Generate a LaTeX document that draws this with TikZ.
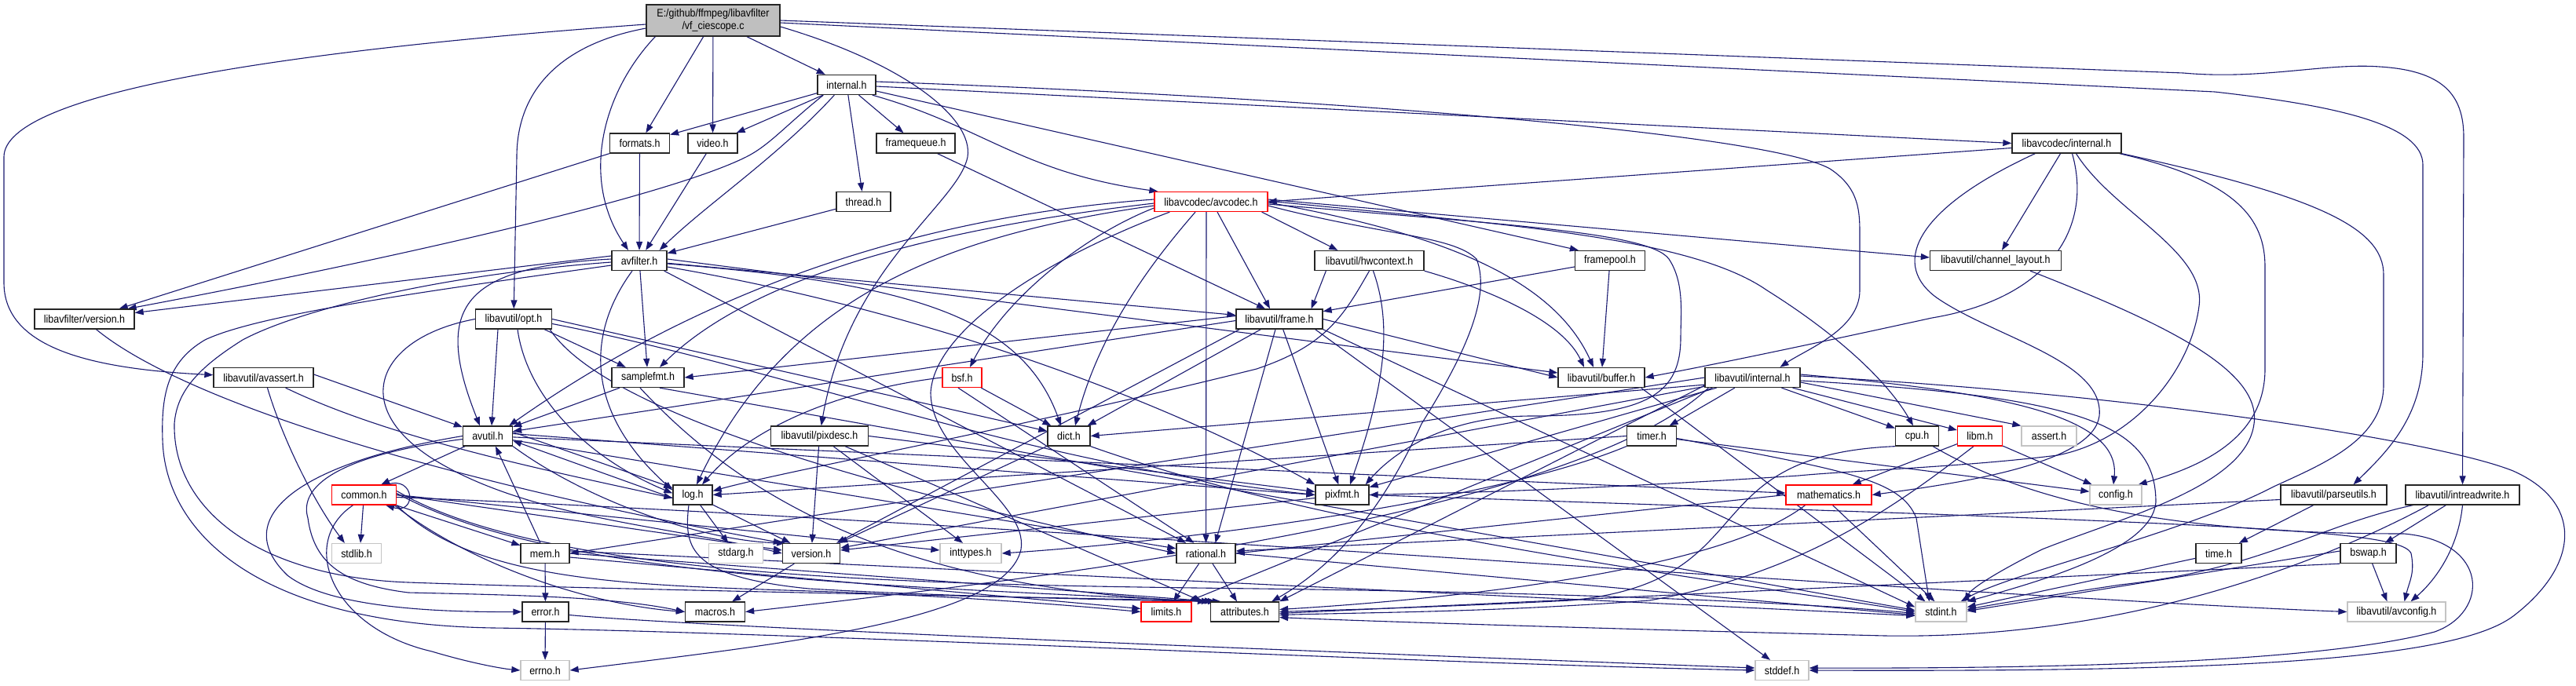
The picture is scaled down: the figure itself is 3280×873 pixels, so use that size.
\documentclass[tikz,border=0pt]{standalone}
\usepackage{fontspec}
\setmainfont{Liberation Sans}[FakeStretch=0.89]
\usetikzlibrary{arrows.meta,calc}
\definecolor{edgec}{HTML}{191970}
\definecolor{mainfill}{HTML}{BFBFBF}
\definecolor{grayb}{HTML}{C4C4C4}
\pgfdeclarelayer{bg}
\pgfsetlayers{bg,main}
\tikzset{
  nd/.style={draw=black!85, line width=1.3pt, fill=white, minimum height=25pt, inner sep=0pt, font=\fontsize{14}{16}\selectfont},
  gnd/.style={nd, draw=grayb},
  rnd/.style={nd, draw=red},
  e/.style={draw=edgec, line width=1.1pt, -{Triangle[length=11pt,width=8pt]}},
}
\begin{document}
\begin{tikzpicture}[x=1pt,y=-1pt]
\useasboundingbox (0,0) rectangle (3280,873);
% ---------------- nodes
\node[nd, fill=mainfill, minimum width=170pt, minimum height=40pt, align=center] (main) at (908,26) {E:/github/ffmpeg/libavfilter\\/vf\_ciescope.c};
\node[nd, minimum width=74pt] (internal) at (1078,108) {internal.h};
\node[nd, minimum width=76pt] (formats) at (814.5,182.5) {formats.h};
\node[nd, minimum width=63pt] (video) at (907.5,182.5) {video.h};
\node[nd, minimum width=100pt] (framequeue) at (1166,182.5) {framequeue.h};
\node[nd, minimum width=139pt] (lavcinternal) at (2631.5,182.5) {libavcodec/internal.h};
\node[nd, minimum width=69pt] (thread) at (1099.5,257) {thread.h};
\node[rnd, minimum width=144pt] (avcodec) at (1542,257) {libavcodec/avcodec.h};
\node[nd, minimum width=70pt] (avfilter) at (814,332) {avfilter.h};
\node[nd, minimum width=139pt] (hwcontext) at (1743.5,332) {libavutil/hwcontext.h};
\node[nd, minimum width=89pt] (framepool) at (2050,332) {framepool.h};
\node[nd, minimum width=167pt] (chlayout) at (2541,332) {libavutil/channel\_layout.h};
\node[nd, minimum width=127pt] (lavfiversion) at (107.5,406.5) {libavfilter/version.h};
\node[nd, minimum width=97pt] (opt) at (654,406.5) {libavutil/opt.h};
\node[nd, minimum width=110pt] (frame) at (1629,406.5) {libavutil/frame.h};
\node[nd, minimum width=127pt] (avassert) at (335.5,481) {libavutil/avassert.h};
\node[nd, minimum width=92pt] (samplefmt) at (825,481) {samplefmt.h};
\node[rnd, minimum width=50pt] (bsf) at (1225,481) {bsf.h};
\node[nd, minimum width=110pt] (buffer) at (2039,481) {libavutil/buffer.h};
\node[nd, minimum width=121pt] (lavuinternal) at (2231.5,481) {libavutil/internal.h};
\node[nd, minimum width=63pt] (avutil) at (621,555.5) {avutil.h};
\node[nd, minimum width=124pt] (pixdesc) at (1043.5,555.5) {libavutil/pixdesc.h};
\node[nd, minimum width=54pt] (dict) at (1361,555.5) {dict.h};
\node[nd, minimum width=63pt] (timer) at (2103,555.5) {timer.h};
\node[nd, minimum width=55pt] (cpu) at (2441,555.5) {cpu.h};
\node[rnd, minimum width=57pt] (libm) at (2521,555.5) {libm.h};
\node[gnd, minimum width=70pt] (assert) at (2609,555.5) {assert.h};
\node[rnd, minimum width=82pt] (common) at (463.5,630.5) {common.h};
\node[nd, minimum width=50pt] (log) at (882,630.5) {log.h};
\node[nd, minimum width=68pt] (pixfmt) at (1709,630.5) {pixfmt.h};
\node[rnd, minimum width=109pt] (mathematics) at (2328.5,630.5) {mathematics.h};
\node[gnd, minimum width=66pt] (config) at (2694,630.5) {config.h};
\node[nd, minimum width=135pt] (parseutils) at (2971.5,630.5) {libavutil/parseutils.h};
\node[nd, minimum width=145pt] (intreadwrite) at (3135.5,630.5) {libavutil/intreadwrite.h};
\node[gnd, minimum width=63pt] (stdlib) at (454,705) {stdlib.h};
\node[nd, minimum width=62pt] (mem) at (694,705) {mem.h};
\node[gnd, minimum width=69pt] (stdarg) at (937,705) {stdarg.h};
\node[nd, minimum width=73pt] (version) at (1033,705) {version.h};
\node[gnd, minimum width=78pt] (inttypes) at (1236,705) {inttypes.h};
\node[nd, minimum width=75pt] (rational) at (1535.5,705) {rational.h};
\node[nd, minimum width=58pt] (time) at (2825,705) {time.h};
\node[nd, minimum width=71pt] (bswap) at (3015.5,705) {bswap.h};
\node[nd, minimum width=59pt] (error) at (694.5,779.5) {error.h};
\node[nd, minimum width=76pt] (macros) at (910.5,779.5) {macros.h};
\node[rnd, minimum width=64pt] (limits) at (1485,779.5) {limits.h};
\node[nd, minimum width=87pt] (attributes) at (1585,779.5) {attributes.h};
\node[gnd, minimum width=65pt] (stdint) at (2471.5,779.5) {stdint.h};
\node[gnd, minimum width=125pt] (avconfig) at (3051.5,779.5) {libavutil/avconfig.h};
\node[gnd, minimum width=62pt] (errno) at (694,854) {errno.h};
\node[gnd, minimum width=68pt] (stddef) at (2269,854) {stddef.h};
% ---------------- edges
\begin{pgfonlayer}{bg}
\fill[white] (0,0) rectangle (3280,873);
% main
\draw[e] ($(main.west)+(0,5)$) .. controls (350,65) and (5,120) .. (5,200) -- (5,360) .. controls (5,445) and (120,470) .. (avassert);
\draw[e] ($(main.west)+(0,10)$) .. controls (720,55) and (658,110) .. (658,200) -- (opt);
\draw[e] ($(main.south west)+(12,0)$) .. controls (765,120) and (740,230) .. ($(avfilter.north)+(-14,0)$);
\draw[e] (main) -- (formats);
\draw[e] (main) -- (video);
\draw[e] (main) -- (internal);
\draw[e] ($(main.east)+(0,8)$) .. controls (1150,80) and (1240,150) .. (1232,200) .. controls (1220,260) and (1080,340) .. (pixdesc);
\draw[e] ($(main.east)+(0,3)$) -- (2820,117) .. controls (2980,135) and (3085,160) .. (3085,210) -- (3085,450) .. controls (3085,530) and (3040,575) .. ($(parseutils.north)+(25,0)$);
\draw[e] (main.east) -- (2780,93) .. controls (2880,102) and (2960,80) .. (3030,85) .. controls (3110,90) and (3137,120) .. (3137,175) -- (intreadwrite);
% internal.h
\draw[e] (internal) -- (formats);
\draw[e] (internal) -- (video);
\draw[e] ($(internal.south west)+(22,0)$) .. controls (990,200) and (900,260) .. ($(avfilter.north east)+(-10,0)$);
\draw[e] ($(internal.south west)+(8,0)$) .. controls (1000,160) and (980,185) .. (950,200) .. controls (850,250) and (500,330) .. ($(lavfiversion.north east)+(-9,0)$);
\draw[e] (internal) -- (thread);
\draw[e] (internal) -- (framequeue);
\draw[e] ($(internal.south east)+(-5,0)$) .. controls (1250,160) and (1300,220) .. ($(avcodec.north west)+(5,0)$);
\draw[e] ($(internal.east)+(0,8)$) -- ($(framepool.north west)+(5,0)$);
\draw[e] ($(internal.east)+(0,2)$) -- (lavcinternal.west);
\draw[e] ($(internal.east)+(0,-4)$) .. controls (1700,125) and (2250,170) .. (2330,215) .. controls (2368,240) and (2368,270) .. (2368,300) -- (2368,370) .. controls (2368,420) and (2300,445) .. ($(lavuinternal.north)+(35,0)$);
% formats, video, thread, framequeue
\draw[e] (formats) -- (avfilter);
\draw[e] (formats.south west) -- ($(lavfiversion.north east)+(-20,0)$);
\draw[e] (video) -- (avfilter);
\draw[e] (thread) -- (avfilter);
\draw[e] (framequeue) -- ($(frame.north)+(-18,0)$);
% libavcodec/internal.h
\draw[e] ($(lavcinternal.west)+(0,6)$) -- (avcodec.east);
\draw[e] (lavcinternal) -- (chlayout);
\draw[e] ($(lavcinternal.south)+(7,0)$) .. controls (2665,290) and (2610,380) .. (2460,405) .. controls (2300,440) and (2180,465) .. (buffer.east);
\draw[e] ($(lavcinternal.south west)+(30,0)$) .. controls (2430,270) and (2410,340) .. (2467,380) .. controls (2540,430) and (2680,460) .. (2673,530) .. controls (2665,590) and (2500,615) .. (mathematics.east);
\draw[e] ($(lavcinternal.south)+(12,0)$) .. controls (2690,270) and (2810,320) .. (2800,390) .. controls (2790,470) and (2720,560) .. (2620,580) .. controls (2500,595) and (2350,600) .. (2290,606) .. controls (2000,625) and (1850,628) .. (pixfmt.east);
\draw[e] ($(lavcinternal.south east)+(-3,0)$) .. controls (2850,230) and (2884,280) .. (2884,340) -- (2884,470) .. controls (2884,560) and (2800,595) .. ($(config.north east)+(-5,0)$);
\draw[e] (lavcinternal.south east) .. controls (2950,250) and (3035,290) .. (3035,350) -- (3035,490) .. controls (3035,560) and (2960,590) .. (2895,620) .. controls (2780,680) and (2560,730) .. ($(stdint.north east)+(-8,0)$);
% libavcodec/avcodec.h
\draw[e] ($(avcodec.south west)+(20,0)$) .. controls (1330,330) and (1190,420) .. (1185,500) .. controls (1185,580) and (1310,640) .. (1300,700) .. controls (1280,790) and (1000,820) .. (errno.east);
\draw[e] ($(avcodec.west)+(0,2)$) .. controls (1200,290) and (960,350) .. ($(samplefmt.north)+(15,0)$);
\draw[e] ($(avcodec.west)+(0,-3)$) .. controls (1250,270) and (950,330) .. ($(avutil.north east)+(-5,0)$);
\draw[e] ($(avcodec.west)+(0,5)$) .. controls (1200,300) and (1000,380) .. ($(log.north)+(5,0)$);
\draw[e] ($(avcodec.west)+(0,8)$) .. controls (1380,300) and (1280,380) .. ($(bsf.north)+(10,0)$);
\draw[e] ($(avcodec.south)+(-20,0)$) .. controls (1470,330) and (1400,420) .. ($(dict.north)+(8,0)$);
\draw[e] ($(avcodec.south)+(-6,0)$) -- (rational);
\draw[e] ($(avcodec.south)+(8,0)$) -- ($(frame.north)+(-12,0)$);
\draw[e] ($(avcodec.south east)+(-8,0)$) -- ($(hwcontext.north west)+(30,0)$);
\draw[e] ($(avcodec.east)+(0,5)$) .. controls (1760,300) and (1850,300) .. (1880,330) .. controls (1900,380) and (1860,460) .. (1810,540) .. controls (1760,650) and (1700,720) .. ($(attributes.north east)+(-10,0)$);
\draw[e] ($(avcodec.east)+(0,3)$) .. controls (1900,285) and (2100,295) .. (2125,330) .. controls (2145,360) and (2140,400) .. (2140,430) .. controls (2140,500) and (2100,530) .. (1950,530) .. controls (1850,530) and (1780,570) .. ($(pixfmt.north east)+(-5,0)$);
\draw[e] ($(avcodec.east)+(0,1)$) .. controls (1850,300) and (1980,360) .. ($(buffer.north)+(-10,0)$);
\draw[e] ($(avcodec.east)+(0,-1)$) .. controls (1900,285) and (2150,300) .. (2250,370) .. controls (2330,420) and (2400,480) .. ($(cpu.north)+(-5,0)$);
\draw[e] ($(avcodec.east)+(0,-3)$) -- ($(chlayout.west)+(0,-4)$);
% avfilter.h
\draw[e] ($(avfilter.west)+(0,-6)$) -- ($(lavfiversion.east)+(0,-8)$);
\draw[e] ($(avfilter.west)+(0,6)$) .. controls (550,370) and (330,400) .. (261,433) .. controls (215,460) and (205,500) .. (207,560) .. controls (210,680) and (330,795) .. (628,800) .. controls (1000,805) and (1800,845) .. (stddef.west);
\draw[e] ($(avfilter.west)+(0,2)$) .. controls (560,350) and (380,395) .. (309,433) .. controls (250,470) and (225,500) .. (222,540) .. controls (220,650) and (330,735) .. (520,742) .. controls (800,752) and (1300,760) .. ($(attributes.north west)+(8,0)$);
\draw[e] ($(avfilter.west)+(0,-2)$) .. controls (590,340) and (550,390) .. ($(avutil.north)+(-10,0)$);
\draw[e] ($(avfilter.south)+(-9,0)$) .. controls (750,420) and (740,520) .. ($(log.west)+(0,-6)$);
\draw[e] (avfilter) -- (samplefmt);
\draw[e] (avfilter) -- (frame);
\draw[e] ($(avfilter.east)+(0,-2)$) -- ($(buffer.west)+(0,-6)$);
\draw[e] ($(avfilter.east)+(0,8)$) .. controls (1200,400) and (1500,520) .. (pixfmt.north west);
\draw[e] ($(avfilter.east)+(0,4)$) .. controls (1150,360) and (1300,400) .. ($(dict.north)+(-10,0)$);
\draw[e] ($(avfilter.south east)+(-4,0)$) -- (rational);
% hwcontext, framepool, channel_layout
\draw[e] (hwcontext.south east) .. controls (1900,370) and (1990,410) .. ($(buffer.north)+(-22,0)$);
\draw[e] ($(hwcontext.south west)+(15,0)$) -- ($(frame.north east)+(-15,0)$);
\draw[e] (hwcontext.south) .. controls (1712,400) and (1690,440) .. (1600,470) .. controls (1300,545) and (1000,600) .. ($(log.east)+(0,-5)$);
\draw[e] ($(hwcontext.south)+(5,0)$) .. controls (1775,420) and (1760,500) .. ($(pixfmt.north)+(10,0)$);
\draw[e] (framepool) -- (frame);
\draw[e] (framepool) -- (buffer);
\draw[e] ($(chlayout.south east)+(-40,0)$) .. controls (2750,410) and (2880,470) .. (2870,540) .. controls (2860,620) and (2700,660) .. (2600,700) .. controls (2540,730) and (2510,750) .. ($(stdint.north east)+(-3,0)$);
% libavfilter/version.h
\draw[e] ($(lavfiversion.south)+(15,0)$) .. controls (220,500) and (500,600) .. (version.north west);
% opt.h
\draw[e] ($(opt.south)+(-20,0)$) -- ($(avutil.north)+(5,0)$);
\draw[e] ($(opt.south east)+(-10,0)$) -- (samplefmt);
\draw[e] (opt.east) -- (dict);
\draw[e] ($(opt.south)+(5,0)$) .. controls (670,500) and (740,580) .. ($(log.west)+(0,-2)$);
\draw[e] ($(opt.east)+(0,6)$) .. controls (1000,470) and (1300,590) .. (pixfmt.west);
\draw[e] ($(opt.south east)+(-3,0)$) .. controls (780,540) and (1200,640) .. (rational.west);
\draw[e] (opt.west) .. controls (480,430) and (440,520) .. (560,590) .. controls (680,660) and (850,670) .. (version.west);
% frame.h
\draw[e] ($(frame.west)+(0,2)$) -- ($(avutil.east)+(0,-6)$);
\draw[e] ($(frame.west)+(0,-4)$) -- (samplefmt.east);
\draw[e] (frame) -- (dict);
\draw[e] ($(frame.south)+(-5,0)$) -- ($(rational.north)+(12,0)$);
\draw[e] ($(frame.south west)+(5,0)$) -- ($(version.north east)+(-5,0)$);
\draw[e] (frame) -- (pixfmt);
\draw[e] (frame.east) -- (buffer.west);
\draw[e] ($(frame.south east)+(-10,0)$) -- ($(stddef.north)+(-15,0)$);
\draw[e] (frame.south east) -- ($(stdint.west)+(0,-6)$);
% avassert.h
\draw[e] ($(avassert.south)+(5,0)$) .. controls (360,560) and (400,640) .. ($(stdlib.north west)+(17,0)$);
\draw[e] ($(avassert.east)+(0,-4)$) -- (avutil);
\draw[e] ($(avassert.south east)+(-36,0)$) .. controls (500,560) and (700,600) .. ($(log.west)+(0,4)$);
% samplefmt.h
\draw[e] (samplefmt) -- (avutil);
\draw[e] ($(samplefmt.south)+(-10,0)$) .. controls (950,640) and (1150,750) .. ($(attributes.north west)+(-5,0)$);
\draw[e] ($(samplefmt.south)+(15,0)$) -- ($(stdint.west)+(0,-2)$);
% bsf.h
\draw[e] (bsf) -- ($(dict.north west)+(5,0)$);
\draw[e] (bsf.west) .. controls (1080,495) and (960,540) .. ($(log.north)+(12,0)$);
\draw[e] ($(bsf.south)+(-5,0)$) -- ($(rational.north)+(-15,0)$);
% buffer.h
\draw[e] ($(buffer.south east)+(-5,0)$) -- ($(stdint.north)+(-20,0)$);
% libavutil/internal.h
\draw[e] ($(lavuinternal.south west)+(10,0)$) -- ($(limits.north east)+(-5,0)$);
\draw[e] ($(lavuinternal.east)+(0,4)$) .. controls (2650,505) and (2745,540) .. (2745,640) .. controls (2740,700) and (2600,740) .. (stdint.north east);
\draw[e] ($(lavuinternal.east)+(0,-2)$) .. controls (2700,500) and (3100,560) .. (3200,600) .. controls (3290,640) and (3285,720) .. (3200,785) .. controls (3120,845) and (2800,856) .. (stddef.east);
\draw[e] ($(lavuinternal.east)+(0,6)$) -- (assert.north west);
\draw[e] ($(lavuinternal.east)+(0,-4)$) .. controls (2550,500) and (2700,530) .. ($(config.north)+(-3,0)$);
\draw[e] ($(lavuinternal.south west)+(0,-3)$) -- (attributes.north east);
\draw[e] (lavuinternal) -- (timer);
\draw[e] (lavuinternal) -- (cpu);
\draw[e] ($(lavuinternal.south west)+(0,-4)$) -- (dict.east);
\draw[e] ($(lavuinternal.south west)+(5,0)$) .. controls (2000,660) and (1300,740) .. (macros.east);
\draw[e] (lavuinternal.west) -- (mem.east);
\draw[e] (lavuinternal) -- (pixfmt);
\draw[e] (lavuinternal) -- (version);
\draw[e] (lavuinternal) -- (libm);
% avutil.h
\draw[e] (avutil) -- ($(common.north east)+(-20,0)$);
\draw[e] (avutil.west) .. controls (380,590) and (290,660) .. (366,733) .. controls (420,775) and (560,780) .. (error.west);
\draw[e] ($(avutil.west)+(0,4)$) .. controls (430,580) and (380,620) .. (392,660) .. controls (400,720) and (440,745) .. (520,755) .. controls (650,758) and (780,760) .. (macros.west);
\draw[e] (avutil) -- (rational);
\draw[e] (avutil.south east) .. controls (750,640) and (900,690) .. ($(version.north west)+(4,0)$);
\draw[e] (avutil) -- (mathematics);
\draw[e] ($(avutil.east)+(0,-5)$) -- ($(log.west)+(0,-9)$);
\draw[e] ($(avutil.east)+(0,-3)$) -- (pixfmt.west);
% pixdesc.h
\draw[e] (pixdesc) -- (version);
\draw[e] (pixdesc) -- ($(inttypes.north)+(-10,0)$);
\draw[e] ($(pixdesc.south east)+(-30,0)$) -- ($(attributes.north west)+(-10,0)$);
\draw[e] (pixdesc.east) -- ($(pixfmt.west)+(0,-4)$);
% dict.h
\draw[e] (dict) -- ($(version.north east)+(-2,0)$);
\draw[e] (dict.south east) .. controls (1700,680) and (2200,740) .. (stdint.west);
% timer.h
\draw[e] (timer.west) -- (log.east);
\draw[e] (timer.south west) .. controls (1900,640) and (1500,690) .. (inttypes.east);
\draw[e] ($(timer.east)+(0,3)$) .. controls (2350,600) and (2420,610) .. (2440,660) -- ($(stdint.north)+(-15,0)$);
\draw[e] (timer) -- (config);
% cpu.h
\draw[e] (cpu.south west) .. controls (2150,580) and (2250,740) .. (2000,765) .. controls (1800,775) and (1700,777) .. (attributes.east);
\draw[e] ($(cpu.south east)+(-8,0)$) .. controls (2600,650) and (2800,680) .. (3061,680) .. controls (3170,690) and (3170,780) .. (3100,805) .. controls (2950,845) and (2600,852) .. ($(stddef.east)+(0,-3)$);
% libm.h
\draw[e] (libm) -- (config);
\draw[e] ($(libm.south west)+(0,-3)$) -- ($(mathematics.north east)+(-25,0)$);
\draw[e] ($(libm.south)+(-8,0)$) .. controls (2420,640) and (2300,730) .. (2100,765) .. controls (1900,780) and (1750,780) .. ($(attributes.east)+(0,4)$);
% common.h
\draw[e] (common) -- ($(stdlib.north)+(5,0)$);
\draw[e] (common) -- (mem);
\draw[e] ($(common.south)+(-14,0)$) .. controls (380,690) and (420,800) .. (550,830) .. controls (600,845) and (640,852) .. (errno.west);
\draw[e] (common.east) -- ($(inttypes.west)+(0,-4)$);
\draw[e] (common.south east) .. controls (600,740) and (800,745) .. (1000,752) .. controls (1200,758) and (1350,770) .. (limits.west);
\draw[e] ($(common.east)+(0,-5)$) .. controls (700,740) and (1200,745) .. (1600,750) .. controls (2000,755) and (2300,768) .. ($(stdint.west)+(0,2)$);
\draw[e] ($(common.east)+(0,-2)$) .. controls (700,735) and (1100,745) .. (attributes.north west);
\draw[e] ($(common.south east)+(-3,0)$) .. controls (600,720) and (750,770) .. (macros.west);
\draw[e] (common.east) -- ($(version.west)+(0,-4)$);
\draw[e] ($(common.east)+(0,3)$) .. controls (1200,660) and (2500,760) .. (avconfig.west);
\draw[e] ($(common.north east)+(-12,0)$) .. controls +(35,-12) and +(40,12) .. ($(common.south east)+(-14,0)$);
% mem.h
\draw[e] (mem) -- (error);
\draw[e] ($(mem.north)+(-6,0)$) -- ($(avutil.south)+(10,0)$);
\draw[e] ($(mem.east)+(0,5)$) -- ($(limits.west)+(0,-4)$);
\draw[e] (mem.east) -- ($(attributes.north west)+(4,0)$);
\draw[e] ($(mem.east)+(0,-3)$) -- ($(stdint.west)+(0,5)$);
% error.h
\draw[e] (error) -- (errno);
\draw[e] ($(error.east)+(0,4)$) .. controls (900,800) and (1800,835) .. ($(stddef.west)+(0,-3)$);
% log.h
\draw[e] (log) -- (stdarg);
\draw[e] (log) -- (version);
\draw[e] ($(log.west)+(0,4)$) -- ($(avutil.east)+(0,6)$);
\draw[e] ($(log.south)+(-5,0)$) .. controls (870,700) and (880,735) .. (1030,750) .. controls (1200,760) and (1450,765) .. ($(attributes.north west)+(14,0)$);
% version.h
\draw[e] (version) -- (macros);
% pixfmt.h
\draw[e] ($(pixfmt.west)+(0,4)$) -- ($(version.east)+(0,-4)$);
\draw[e] (pixfmt.east) -- (2460,655) .. controls (2900,672) and (3060,680) .. (3070,705) .. controls (3075,730) and (3068,740) .. ($(avconfig.north)+(10,0)$);
% rational.h
\draw[e] (rational) -- (limits);
\draw[e] (rational) -- ($(attributes.north)+(-10,0)$);
\draw[e] (rational.east) -- ($(stdint.west)+(0,4)$);
% mathematics.h
\draw[e] (mathematics.west) -- (rational.east);
\draw[e] ($(mathematics.south)+(-30,0)$) .. controls (2200,720) and (1900,760) .. ($(attributes.east)+(0,-3)$);
\draw[e] ($(mathematics.south)+(5,0)$) -- ($(stdint.north)+(-8,0)$);
% parseutils.h
\draw[e] (parseutils) -- (time);
\draw[e] ($(parseutils.west)+(0,6)$) -- ($(rational.east)+(0,-3)$);
% intreadwrite.h
\draw[e] ($(intreadwrite.south west)+(10,0)$) .. controls (2950,670) and (2880,725) .. (2700,745) .. controls (2600,760) and (2550,768) .. ($(stdint.east)+(0,-3)$);
\draw[e] ($(intreadwrite.south west)+(30,0)$) .. controls (2950,720) and (2700,815) .. (2400,810) .. controls (2000,800) and (1700,790) .. ($(attributes.east)+(0,7)$);
\draw[e] (intreadwrite) -- (bswap);
\draw[e] (intreadwrite.south) .. controls (3130,700) and (3100,740) .. ($(avconfig.north)+(18,0)$);
% time.h, bswap.h
\draw[e] (time) -- ($(stdint.east)+(0,-6)$);
\draw[e] ($(bswap.west)+(0,-3)$) -- ($(stdint.east)+(0,-1)$);
\draw[e] (bswap.south west) -- ($(attributes.east)+(0,2)$);
\draw[e] (bswap) -- ($(avconfig.north)+(-12,0)$);
\end{pgfonlayer}
\end{tikzpicture}
\end{document}
